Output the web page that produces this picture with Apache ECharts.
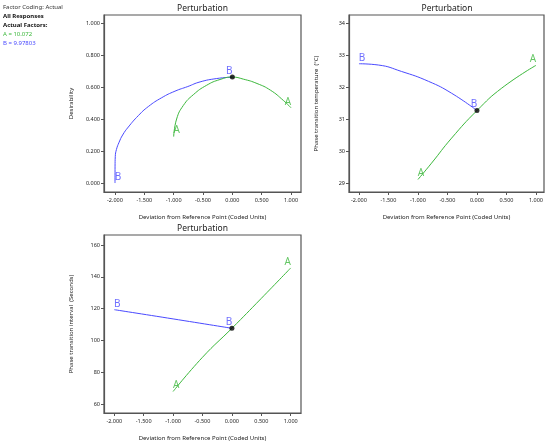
<!DOCTYPE html>
<html>
<head>
<meta charset="utf-8">
<script src="https://cdn.jsdelivr.net/npm/echarts@6/dist/echarts.min.js"></script>
<style>
  html, body { margin: 0; padding: 0; background: #fff; }
  #chart { width: 550px; height: 444px; }
</style>
</head>
<body>
<div id="chart"></div>
<script>
// 坐标刻度
const devTicks = [-2, -1.5, -1, -0.5, 0, 0.5, 1];
const desTicks = [0, 0.2, 0.4, 0.6, 0.8, 1.0];
const tempTicks = [29, 30, 31, 32, 33, 34];
const intTicks = [60, 80, 100, 120, 140, 160];

// Desirability
const desA_x = [-1.0, -0.95, -0.835, -0.665, -0.438, -0.21, 0, 0.19, 0.42, 0.65, 0.87, 1.0];
const desA_y = [0.29, 0.40, 0.485, 0.552, 0.611, 0.647, 0.662, 0.649, 0.622, 0.58, 0.516, 0.47];
const desB_x = [-2.0, -1.999, -1.995, -1.975, -1.93, -1.87, -1.773, -1.603, -1.432, -1.205, -0.978, -0.76, -0.55, -0.266, 0];
const desB_y = [0.0, 0.105, 0.166, 0.21, 0.255, 0.30, 0.35, 0.421, 0.478, 0.533, 0.574, 0.603, 0.632, 0.653, 0.662];

// Phase transition temperature
const tempA_x = [-1.0, -0.77, -0.43, 0, 0.42, 1.0];
const tempA_y = [29.12, 29.63, 30.41, 31.27, 31.97, 32.68];
const tempB_x = [-2.0, -1.67, -1.28, -0.82, -0.43, 0];
const tempB_y = [32.73, 32.69, 32.49, 32.18, 31.81, 31.27];

// Phase transition interval
const intA_x = [-1.0, -0.5, 0, 0.5, 1.0];
const intA_y = [68.0, 89.5, 107.7, 126.5, 145.6];
const intB_x = [-2.0, -1.0, 0];
const intB_y = [119.4, 113.6, 107.7];

const GREEN = '#3cb83c';
const BLUE = '#4a4aff';
const FONT = '"Noto Sans", "Open Sans", sans-serif';

const zip = (xs, ys) => xs.map((x, i) => [x, ys[i]]);

function xAxisFor(gi, min, max, name) {
    return {
        gridIndex: gi, type: 'value', min: min, max: max,
        name: name, nameLocation: 'middle', nameGap: 22,
        nameTextStyle: { fontSize: 6, color: '#222', fontFamily: FONT },
        axisLine: { show: true, onZero: false, lineStyle: { color: '#555', width: 1.2 } },
        axisTick: { show: true, length: 3, customValues: devTicks, lineStyle: { color: '#555' } },
        axisLabel: { customValues: devTicks, fontSize: 5.5, color: '#222', margin: 5, fontFamily: FONT,
            formatter: v => v.toFixed(3) },
        splitLine: { show: false }
    };
}

function yAxisFor(gi, min, max, ticks, name, dec) {
    return {
        gridIndex: gi, type: 'value', min: min, max: max,
        name: name, nameLocation: 'middle', nameGap: 30, nameRotate: 90,
        nameTextStyle: { fontSize: 6, color: '#222', fontFamily: FONT },
        axisLine: { show: true, onZero: false, lineStyle: { color: '#555', width: 1.2 } },
        axisTick: { show: true, length: 3, customValues: ticks, lineStyle: { color: '#555' } },
        axisLabel: { customValues: ticks, fontSize: 5.5, color: '#222', margin: 4, fontFamily: FONT,
            formatter: v => v.toFixed(dec) },
        splitLine: { show: false }
    };
}

function curve(gi, pts, color) {
    return {
        type: 'line', xAxisIndex: gi, yAxisIndex: gi, data: pts,
        smooth: 0.5, showSymbol: false, symbol: 'none',
        lineStyle: { color: color, width: 1 }, silent: true, z: 2
    };
}

function letters(gi, pts, letter, color) {
    const first = pts[0], last = pts[pts.length - 1];
    return {
        type: 'scatter', xAxisIndex: gi, yAxisIndex: gi, symbolSize: 1,
        itemStyle: { color: 'rgba(0,0,0,0)' }, silent: true, z: 5,
        data: [
            { value: first, label: { offset: [3, -6] } },
            { value: last, label: { offset: [-3, -6] } }
        ],
        label: { show: true, position: 'inside', formatter: letter, color: color,
            fontSize: 10, fontFamily: FONT }
    };
}

function dot(gi, y) {
    return {
        type: 'scatter', xAxisIndex: gi, yAxisIndex: gi, symbolSize: 5,
        itemStyle: { color: '#000' }, data: [[0, y]], silent: true, z: 6
    };
}

const desA = zip(desA_x, desA_y), desB = zip(desB_x, desB_y);
const tempA = zip(tempA_x, tempA_y), tempB = zip(tempB_x, tempB_y);
const intA = zip(intA_x, intA_y), intB = zip(intB_x, intB_y);

const xName = 'Deviation from Reference Point (Coded Units)';
const gridBox = { show: true, borderColor: '#555', borderWidth: 1.2, backgroundColor: '#fff' };

function txt(x, y, text, color, weight, size, align) {
    return { type: 'text', x: x, y: y, silent: true,
        style: { text: text, fill: color, textAlign: align || 'left', textVerticalAlign: 'middle',
            font: (weight || 'normal') + ' ' + (size || 6) + 'px ' + FONT } };
}

const chart = echarts.init(document.getElementById('chart'));
chart.setOption({
    animation: false,
    grid: [
        Object.assign({ left: 104, top: 15, width: 197, height: 177 }, gridBox),
        Object.assign({ left: 349, top: 15, width: 195, height: 177 }, gridBox),
        Object.assign({ left: 104, top: 235, width: 197, height: 178 }, gridBox)
    ],
    xAxis: [
        xAxisFor(0, -2.1875, 1.170, xName),
        xAxisFor(1, -2.169, 1.136, xName),
        xAxisFor(2, -2.175, 1.175, xName)
    ],
    yAxis: [
        yAxisFor(0, -0.056, 1.05, desTicks, 'Desirability', 3),
        yAxisFor(1, 28.73, 34.25, tempTicks, 'Phase transition temperature  (°C)', 0),
        yAxisFor(2, 54.5, 166.3, intTicks, 'Phase transition interval  (Seconds)', 0)
    ],
    graphic: [
        txt(3, 7, 'Factor Coding: Actual', '#333'),
        txt(3, 16, 'All Responses', '#111', 'bold'),
        txt(3, 25, 'Actual Factors:', '#111', 'bold'),
        txt(3, 34, 'A = 10.072', GREEN),
        txt(3, 43, 'B = 9.97803', BLUE),
        txt(202.5, 9, 'Perturbation', '#222', 'normal', 8.5, 'center'),
        txt(447, 9, 'Perturbation', '#222', 'normal', 8.5, 'center'),
        txt(202.5, 229, 'Perturbation', '#222', 'normal', 8.5, 'center')
    ],
    series: [
        curve(0, desB, BLUE), curve(0, desA, GREEN),
        letters(0, desB, 'B', BLUE), letters(0, desA, 'A', GREEN), dot(0, 0.662),
        curve(1, tempB, BLUE), curve(1, tempA, GREEN),
        letters(1, tempB, 'B', BLUE), letters(1, tempA, 'A', GREEN), dot(1, 31.27),
        curve(2, intB, BLUE), curve(2, intA, GREEN),
        letters(2, intB, 'B', BLUE), letters(2, intA, 'A', GREEN), dot(2, 107.7)
    ]
});
</script>
</body>
</html>
